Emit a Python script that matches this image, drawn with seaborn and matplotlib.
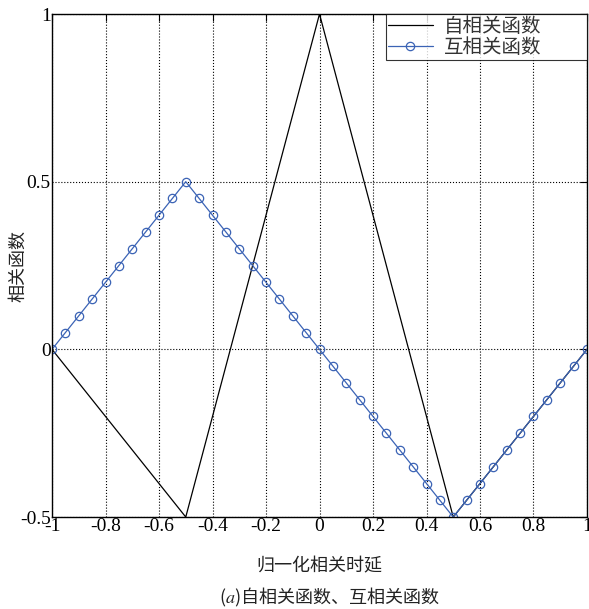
import matplotlib
matplotlib.use("Agg")
import matplotlib.pyplot as plt
import seaborn as sns

# 自相关函数 (折线的顶点)
auto_x = [-1.0, -0.5, 0.0, 0.5, 1.0]
auto_y = [0.0, -0.5, 1.0, -0.5, 0.0]

# 互相关函数 (每 0.05 一个采样点)
cross_x = [-1.0, -0.95, -0.9, -0.85, -0.8, -0.75, -0.7, -0.65, -0.6, -0.55,
           -0.5, -0.45, -0.4, -0.35, -0.3, -0.25, -0.2, -0.15, -0.1, -0.05,
           0.0, 0.05, 0.1, 0.15, 0.2, 0.25, 0.3, 0.35, 0.4, 0.45,
           0.5, 0.55, 0.6, 0.65, 0.7, 0.75, 0.8, 0.85, 0.9, 0.95, 1.0]
cross_y = [0.0, 0.05, 0.1, 0.15, 0.2, 0.25, 0.3, 0.35, 0.4, 0.45,
           0.5, 0.45, 0.4, 0.35, 0.3, 0.25, 0.2, 0.15, 0.1, 0.05,
           0.0, -0.05, -0.1, -0.15, -0.2, -0.25, -0.3, -0.35, -0.4, -0.45,
           -0.5, -0.45, -0.4, -0.35, -0.3, -0.25, -0.2, -0.15, -0.1, -0.05, 0.0]

xticks = [-1, -0.8, -0.6, -0.4, -0.2, 0, 0.2, 0.4, 0.6, 0.8, 1]
xtick_labels = ['-1', '-0.8', '-0.6', '-0.4', '-0.2', '0', '0.2', '0.4', '0.6', '0.8', '1']
yticks = [-0.5, 0, 0.5, 1]
ytick_labels = ['-0.5', '0', '0.5', '1']

sns.set_style("white")
plt.rcParams['font.family'] = ['Noto Sans CJK SC', 'DejaVu Sans']
plt.rcParams['mathtext.fontset'] = 'stix'

fig = plt.figure(figsize=(5.89, 6.09), dpi=100)
ax = fig.add_axes([0.0883, 0.151, 0.9083, 0.826])

blue = '#3b63b5'
sns.lineplot(x=auto_x, y=auto_y, ax=ax, color='black', linewidth=0.9,
             label='自相关函数', sort=False)
sns.lineplot(x=cross_x, y=cross_y, ax=ax, color=blue, linewidth=0.9,
             marker='o', markersize=6, markerfacecolor='none',
             markeredgecolor=blue, markeredgewidth=0.9,
             label='互相关函数', sort=False)

ax.set_xlim(-1, 1)
ax.set_ylim(-0.5, 1)
ax.set_xticks(xticks)
ax.set_xticklabels(xtick_labels, family='Liberation Serif', fontsize=14)
ax.set_yticks(yticks)
ax.set_yticklabels(ytick_labels, family='Liberation Serif', fontsize=14)
ax.tick_params(direction='in', length=5, width=0.8, colors='black', pad=1,
               top=True, right=True)
ax.grid(True, color='black', linestyle=':', linewidth=0.8)
for s in ax.spines.values():
    s.set_color('black')
    s.set_linewidth(1.0)

ax.set_xlabel('归一化相关时延', fontsize=13, color='#222222', va='center')
ax.xaxis.set_label_coords(0.5, -0.099)
ax.set_ylabel('相关函数', fontsize=13, color='#222222', va='center')
ax.yaxis.set_label_coords(-0.064, 0.5)

# 图例框横向铺满到坐标轴右边
leg = ax.legend(loc='upper right', fontsize=14, frameon=True, fancybox=False,
                borderpad=0.1, labelspacing=0.0, handlelength=2.3,
                handletextpad=0.6, borderaxespad=0.0,
                bbox_to_anchor=(0.624, 0.9145, 0.376, 0.0855), mode='expand')
leg.get_frame().set_edgecolor('black')
leg.get_frame().set_linewidth(0.8)
for t in leg.get_texts():
    t.set_color('#333333')

fig.text(0.56, 0.019, r'($\mathit{a}$)自相关函数、互相关函数', ha='center',
         va='center', fontsize=13, color='#222222')

fig.savefig('out.png', dpi=100)
